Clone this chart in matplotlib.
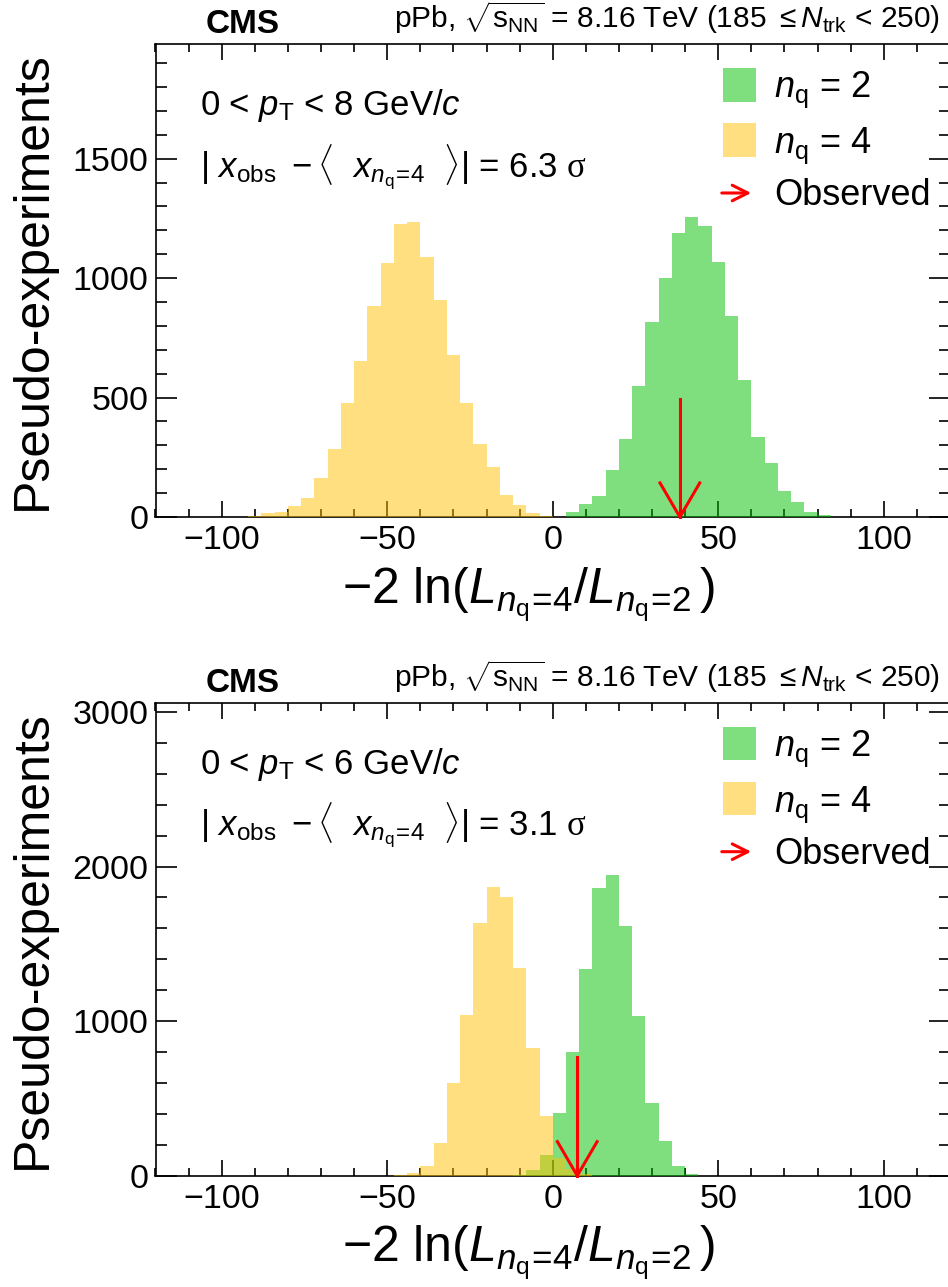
import matplotlib
matplotlib.use("Agg")
import matplotlib.pyplot as plt
import numpy as np
from matplotlib.patches import Rectangle, FancyArrowPatch
from matplotlib.ticker import MultipleLocator

plt.rcParams['font.family'] = ['Liberation Sans', 'DejaVu Sans']
plt.rcParams['mathtext.fontset'] = 'custom'
plt.rcParams['mathtext.rm'] = 'Liberation Sans'
plt.rcParams['mathtext.it'] = 'Liberation Sans:italic'
plt.rcParams['mathtext.bf'] = 'Liberation Sans:bold'
plt.rcParams['mathtext.sf'] = 'Liberation Serif'

# histogram data, bin width 4
bin_width = 4

# top panel: 0 < pT < 8 GeV/c
top_nq4_start = -92
top_nq4 = [4, 17, 22, 45, 81, 164, 286, 476, 655, 885, 1064, 1226, 1234, 1088,
           910, 677, 476, 306, 209, 91, 50, 15, 6]
top_nq2_start = 4
top_nq2 = [20, 56, 89, 198, 326, 550, 816, 999, 1188, 1254, 1219, 1066, 841,
           575, 336, 228, 107, 64, 22, 10]
top_observed = 38.4
top_ymax = 1980

# bottom panel: 0 < pT < 6 GeV/c
bot_nq4_start = -48
bot_nq4 = [5, 19, 60, 212, 598, 1037, 1635, 1868, 1804, 1346, 825, 389, 117, 45, 10]
bot_nq2_start = -12
bot_nq2 = [4, 37, 134, 406, 803, 1339, 1862, 1944, 1616, 1035, 471, 227, 65, 11]
bot_observed = 7.4
bot_ymax = 3060

pt_labels = [r'0 < $p_{\rm T}$ < 8 GeV/$c$', r'0 < $p_{\rm T}$ < 6 GeV/$c$']
sigma_labels = ['6.3', '3.1']

green = '#00c000'
yellow = '#ffc000'

W, H = 948, 1287
fig = plt.figure(figsize=(W / 100, H / 100), dpi=100)


def fx(px):
    return px / W


def fy(py):
    return 1 - py / H


def draw_panel(top_px, nq4_start, nq4, nq2_start, nq2, observed, ymax,
               ymajor, yminor, pt_label, sig):
    bottom_px = top_px + 473
    ax = fig.add_axes([fx(155.5), fy(bottom_px), fx(950) - fx(155.5),
                       (bottom_px - top_px) / H])
    e2 = nq2_start + bin_width * np.arange(len(nq2) + 1)
    e4 = nq4_start + bin_width * np.arange(len(nq4) + 1)
    ax.stairs(nq2, e2, fill=True, color=green, alpha=0.5, lw=0, zorder=3)
    ax.stairs(nq4, e4, fill=True, color=yellow, alpha=0.5, lw=0, zorder=3)
    ax.set_xlim(-120, 120)
    ax.set_ylim(0, ymax)
    ax.xaxis.set_major_locator(MultipleLocator(50))
    ax.xaxis.set_minor_locator(MultipleLocator(10))
    ax.yaxis.set_major_locator(MultipleLocator(ymajor))
    ax.yaxis.set_minor_locator(MultipleLocator(yminor))
    ax.tick_params(which='both', direction='in', top=True, right=True,
                   labelsize=24.5, width=1.2, zorder=1)
    ax.tick_params(axis='x', which='major', length=11.5, pad=6)
    ax.tick_params(axis='x', which='minor', length=6)
    ax.tick_params(axis='y', which='major', length=15, pad=5)
    ax.tick_params(axis='y', which='minor', length=8)
    for s in ax.spines.values():
        s.set_linewidth(1.2)
        s.set_zorder(2)

    # observed arrow
    trans = ax.get_xaxis_transform()
    ax.plot([observed, observed], [0.0, 0.25], color='red', lw=2.2,
            transform=trans, zorder=5, clip_on=False)
    ax.plot([observed - 6, observed, observed + 6], [0.072, 0.0, 0.072],
            color='red', lw=2.2, transform=trans, zorder=5, clip_on=False)

    # header
    fig.text(fx(243), fy(top_px - 11), 'CMS', fontsize=24, fontweight='bold',
             ha='center', va='baseline')
    fig.text(fx(940), fy(top_px - 16),
             r'pPb, $\sqrt{\mathrm{s}_{\rm NN}}$ = 8.16 TeV (185 $\leq$$N_{\rm trk}$ < 250)',
             fontsize=21.5, ha='right', va='baseline')

    # kinematic labels
    fig.text(fx(200), fy(top_px + 71), pt_label, fontsize=25, va='baseline')
    fig.text(fx(200), fy(top_px + 133),
             r'$|\ x_{\rm obs}\ -\langle\ \ x_{n_{\rm q}\!=\!4}\ \ \rangle|$ = '
             + sig + r' $\mathsf{\sigma}$',
             fontsize=25, va='baseline')

    # legend
    ax.add_artist(Rectangle((fx(722.7), fy(top_px + 57.7)), fx(33.3), 33.4 / H,
                            transform=fig.transFigure, color=green, alpha=0.5,
                            lw=0))
    ax.add_artist(Rectangle((fx(722.7), fy(top_px + 112.7)), fx(33.3), 33.4 / H,
                            transform=fig.transFigure, color=yellow, alpha=0.5,
                            lw=0))
    fig.text(fx(774), fy(top_px + 53), r'$n_{\rm q}$ = 2', fontsize=26,
             va='baseline')
    fig.text(fx(774), fy(top_px + 109), r'$n_{\rm q}$ = 4', fontsize=26,
             va='baseline')
    fig.text(fx(774), fy(top_px + 161), 'Observed', fontsize=26, va='baseline')
    fig.patches.append(FancyArrowPatch(
        (fx(719), fy(top_px + 149)), (fx(754), fy(top_px + 149)),
        transform=fig.transFigure, arrowstyle='->', mutation_scale=28,
        color='red', lw=2.2))

    # axis titles
    fig.text(fx(528), fy(top_px + 559),
             r'$-2\ \mathrm{ln}(L_{n_{\rm q}\!=\!4}/L_{n_{\rm q}\!=\!2}\,)$',
             fontsize=36, ha='center', va='baseline')
    fig.text(fx(33), fy(top_px + 236.5), 'Pseudo-experiments', fontsize=36,
             rotation=90, ha='center', va='center')
    return ax


draw_panel(44, top_nq4_start, top_nq4, top_nq2_start, top_nq2, top_observed,
           top_ymax, 500, 100, pt_labels[0], sigma_labels[0])
draw_panel(702.7, bot_nq4_start, bot_nq4, bot_nq2_start, bot_nq2, bot_observed,
           bot_ymax, 1000, 200, pt_labels[1], sigma_labels[1])

fig.savefig('out.png', dpi=100)
